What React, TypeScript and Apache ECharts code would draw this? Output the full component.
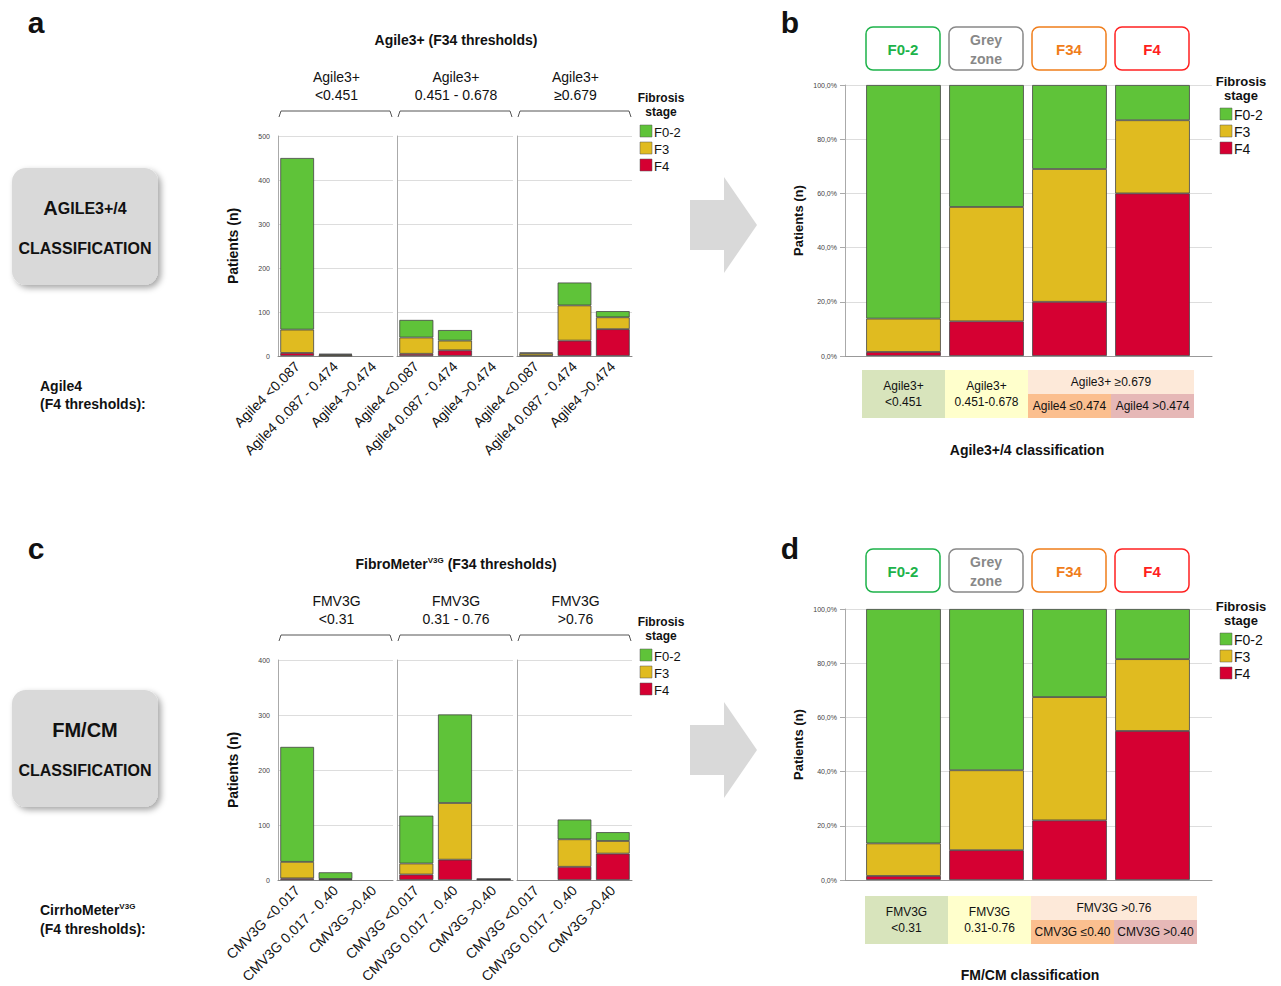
import React, { useEffect, useRef } from "react";
import * as echarts from "echarts";

const STAGES = ["F4", "F3", "F0-2"];
const COLORS = ["#d50032", "#e0bb20", "#5fc339"];
const catsA = ["Agile4 <0.087", "Agile4 0.087 - 0.474", "Agile4 >0.474"];
const catsC = ["CMV3G <0.017", "CMV3G 0.017 - 0.40", "CMV3G >0.40"];
// [F4, F3, F0-2] per category per sub-panel
const panelA = [
  [[7, 53, 390], [1, 2, 2], [0, 0, 0]],
  [[5, 37, 40], [13, 22, 24], [0, 0, 0]],
  [[1, 5, 2], [35, 80, 52], [61, 27, 14]],
];
const panelC = [
  [[3, 30, 209], [1, 1, 12], [0, 0, 0]],
  [[10, 20, 87], [37, 103, 161], [1, 0.5, 0.5]],
  [[0, 0, 0], [24, 50, 36], [48, 23, 16]],
];
const catsB = ["F0-2", "Grey zone", "F34", "F4"];
const panelB = [[1.5, 12.3, 86.2], [12.8, 42.2, 45], [20, 49, 31], [60, 27, 13]];
const panelD = [[1.5, 12, 86.5], [11, 29.5, 59.5], [22, 45.5, 32.5], [55, 26.5, 18.5]];

export default function App() {
  const ref = useRef<HTMLDivElement>(null);
  useEffect(() => {
    document.body.style.margin = "0";
    const chart = echarts.init(ref.current!, undefined, { renderer: "svg" });
    const grids: any[] = [];
    const xAxes: any[] = [];
    const yAxes: any[] = [];
    const series: any[] = [];
    const nz = (v: number) => (v === 0 ? null : v);
    const subX = [[278, 115], [397, 116], [517, 115]];
    const addCount = (top: number, max: number, interval: number, cats: string[], data: number[][][]) => {
      subX.forEach(([l, w], si) => {
        const gi = grids.length;
        grids.push({ left: l, top, width: w, height: 220 });
        xAxes.push({
          type: "category", gridIndex: gi, data: cats,
          axisLine: { lineStyle: { color: "#888" } }, axisTick: { show: false },
          axisLabel: { rotate: 45, fontSize: 14, color: "#111", fontFamily: "Liberation Sans", interval: 0, margin: 8 },
        });
        yAxes.push({
          type: "value", gridIndex: gi, min: 0, max, interval,
          name: si === 0 ? "Patients (n)" : "", nameLocation: "middle", nameGap: 38,
          nameTextStyle: { fontSize: 14, fontWeight: "bold", color: "#111", fontFamily: "Liberation Sans" },
          axisLine: { show: true, lineStyle: { color: "#aaa" } },
          axisLabel: { show: si === 0, fontSize: 7, color: "#444" },
          splitLine: { lineStyle: { color: "#ddd" } },
        });
        STAGES.forEach((s, k) => {
          series.push({
            type: "bar", name: s, stack: "s" + gi, xAxisIndex: gi, yAxisIndex: gi,
            barCategoryGap: "12%", data: data[si].map((d) => nz(d[k])),
            itemStyle: { color: COLORS[k], borderColor: "#444", borderWidth: 0.8 },
          });
        });
      });
    };
    addCount(136, 500, 100, catsA, panelA);
    addCount(660, 400, 100, catsC, panelC);
    const addPct = (top: number, data: number[][]) => {
      // background grid: axes, split lines, labels
      let gi = grids.length;
      grids.push({ left: 845, top, width: 367, height: 271 });
      xAxes.push({ type: "value", gridIndex: gi, min: 0, max: 1, axisLabel: { show: false }, axisTick: { show: false }, splitLine: { show: false }, axisLine: { show: true, lineStyle: { color: "#999" } } });
      yAxes.push({
        type: "value", gridIndex: gi, min: 0, max: 100, interval: 20,
        name: "Patients (n)", nameLocation: "middle", nameGap: 40,
        nameTextStyle: { fontSize: 13, fontWeight: "bold", color: "#111", fontFamily: "Liberation Sans" },
        axisLine: { show: true, lineStyle: { color: "#aaa" } },
        axisLabel: { fontSize: 7, color: "#444", formatter: (v: number) => v.toFixed(1).replace(".", ",") + "%" },
        splitLine: { lineStyle: { color: "#ddd" } },
      });
      // data grid
      gi = grids.length;
      grids.push({ left: 862, top, width: 332, height: 271 });
      xAxes.push({ type: "category", gridIndex: gi, data: catsB, axisLabel: { show: false }, axisTick: { show: false }, axisLine: { show: false } });
      yAxes.push({ type: "value", gridIndex: gi, min: 0, max: 100, interval: 20, axisLabel: { show: false }, axisLine: { show: false }, splitLine: { show: false } });
      STAGES.forEach((s, k) => {
        series.push({
          type: "bar", name: s, stack: "s" + gi, xAxisIndex: gi, yAxisIndex: gi,
          barCategoryGap: "10%", data: data.map((d) => d[k]),
          itemStyle: { color: COLORS[k], borderColor: "#444", borderWidth: 0.8 },
        });
      });
    };
    addPct(85, panelB);
    addPct(609, panelD);

    const g: any[] = [];
    const F = "Liberation Sans";
    const txt = (x: number, y: number, text: string, o: any = {}) =>
      g.push({ type: "text", x, y, style: { text, fontFamily: F, fontSize: 14, fill: "#111", align: "center", verticalAlign: "middle", ...o } });
    txt(36, 22, "a", { fontSize: 30, fontWeight: "bold" });
    txt(790, 22, "b", { fontSize: 30, fontWeight: "bold" });
    txt(36, 548, "c", { fontSize: 30, fontWeight: "bold" });
    txt(790, 548, "d", { fontSize: 30, fontWeight: "bold" });
    txt(456, 40, "Agile3+ (F34 thresholds)", { fontWeight: "bold" });
    g.push({ type: "text", x: 456, y: 564, style: { text: "{b|FibroMeter}{s|V3G}{b| (F34 thresholds)}", align: "center", verticalAlign: "middle",
      rich: { b: { fontFamily: F, fontSize: 14, fontWeight: "bold", fill: "#111" }, s: { fontFamily: F, fontSize: 8, fontWeight: "bold", fill: "#111", verticalAlign: "top", padding: [0, 0, 8, 0] } } } });
    const subA = [["Agile3+", "<0.451"], ["Agile3+", "0.451 - 0.678"], ["Agile3+", "≥0.679"]];
    const subC = [["FMV3G", "<0.31"], ["FMV3G", "0.31 - 0.76"], ["FMV3G", ">0.76"]];
    const brackets = (y0: number, labels: string[][]) => {
      subX.forEach(([l, w], i) => {
        txt(l + w / 2 + 1, y0, labels[i][0]);
        txt(l + w / 2 + 1, y0 + 18, labels[i][1]);
        g.push({ type: "polyline", shape: { points: [[l + 1, y0 + 40], [l + 3, y0 + 34], [l + w - 3, y0 + 34], [l + w - 1, y0 + 40]] }, style: { stroke: "#555", lineWidth: 1, fill: "none" } });
      });
    };
    brackets(77, subA);
    brackets(601, subC);
    const legend = (x: number, y: number, fs: number) => {
      txt(x + 21, y, "Fibrosis", { fontSize: fs, fontWeight: "bold" });
      txt(x + 21, y + 14, "stage", { fontSize: fs, fontWeight: "bold" });
      [2, 1, 0].forEach((k, i) => {
        const yy = y + 27 + i * 17;
        g.push({ type: "rect", shape: { x, y: yy, width: 12, height: 12 }, style: { fill: COLORS[k], stroke: "#555", lineWidth: 0.5 } });
        txt(x + 14, yy + 7, STAGES[k], { align: "left", fontSize: fs + 1 });
      });
    };
    legend(640, 98, 12);
    legend(640, 622, 12);
    legend(1220, 81, 13);
    legend(1220, 606, 13);
    const leftBox = (y: number, rich: string) => {
      g.push({ type: "rect", shape: { x: 12, y, width: 146, height: 117, r: 14 }, style: { fill: "#d9d9d9", shadowBlur: 6, shadowColor: "rgba(0,0,0,0.35)", shadowOffsetX: 3, shadowOffsetY: 3 } });
      g.push({ type: "text", x: 85, y: y + 40, style: { text: rich, align: "center", verticalAlign: "middle",
        rich: { big: { fontFamily: F, fontSize: 20, fontWeight: "bold", fill: "#111" }, sm: { fontFamily: F, fontSize: 16, fontWeight: "bold", fill: "#111" } } } });
      txt(85, y + 80, "CLASSIFICATION", { fontSize: 16, fontWeight: "bold" });
    };
    leftBox(168, "{big|A}{sm|GILE3+/4}");
    leftBox(690, "{big|FM/CM}");
    txt(40, 386, "Agile4", { align: "left", fontWeight: "bold" });
    txt(40, 404, "(F4 thresholds):", { align: "left", fontWeight: "bold" });
    g.push({ type: "text", x: 40, y: 910, style: { text: "{b|CirrhoMeter}{s|V3G}", align: "left", verticalAlign: "middle",
      rich: { b: { fontFamily: F, fontSize: 14, fontWeight: "bold", fill: "#111" }, s: { fontFamily: F, fontSize: 8, fontWeight: "bold", fill: "#111", verticalAlign: "top", padding: [0, 0, 8, 0] } } } });
    txt(40, 929, "(F4 thresholds):", { align: "left", fontWeight: "bold" });
    const arrow = (cy: number) => g.push({ type: "polygon", shape: { points: [[690, cy - 25], [724, cy - 25], [724, cy - 48], [757, cy], [724, cy + 48], [724, cy + 25], [690, cy + 25]] }, style: { fill: "#d9d9d9" } });
    arrow(225);
    arrow(750);
    const heads = [["F0-2", "#1db34a"], ["Grey\nzone", "#888"], ["F34", "#f07d1a"], ["F4", "#ff2020"]];
    const headBoxes = (y: number) => heads.forEach(([t, c], i) => {
      const x = 866 + i * 83;
      g.push({ type: "rect", shape: { x, y, width: 74, height: 43, r: 7 }, style: { fill: "#fff", stroke: c, lineWidth: 1.5 } });
      txt(x + 37, y + 22, t, { fill: c, fontWeight: "bold", fontSize: t.includes("\n") ? 14 : 15, lineHeight: 19 });
    });
    headBoxes(27);
    headBoxes(549);
    const table = (y: number, c1: string[], c2: string[], top: string, b1: string, b2: string, x0: number) => {
      const w = 83;
      const cell = (x: number, yy: number, ww: number, hh: number, fill: string) => g.push({ type: "rect", shape: { x, y: yy, width: ww, height: hh }, style: { fill } });
      cell(x0, y, w, 48, "#d8e4bc");
      cell(x0 + w, y, w, 48, "#ffffcc");
      cell(x0 + 2 * w, y, 2 * w, 24, "#fde9d9");
      cell(x0 + 2 * w, y + 24, w, 24, "#fbbf8f");
      cell(x0 + 3 * w, y + 24, w, 24, "#e6b8b7");
      txt(x0 + w / 2, y + 16, c1[0], { fontSize: 12 });
      txt(x0 + w / 2, y + 32, c1[1], { fontSize: 12 });
      txt(x0 + 1.5 * w, y + 16, c2[0], { fontSize: 12 });
      txt(x0 + 1.5 * w, y + 32, c2[1], { fontSize: 12 });
      txt(x0 + 3 * w, y + 12, top, { fontSize: 12 });
      txt(x0 + 2.5 * w, y + 36, b1, { fontSize: 12 });
      txt(x0 + 3.5 * w, y + 36, b2, { fontSize: 12 });
    };
    table(370, ["Agile3+", "<0.451"], ["Agile3+", "0.451-0.678"], "Agile3+ ≥0.679", "Agile4 ≤0.474", "Agile4 >0.474", 862);
    table(896, ["FMV3G", "<0.31"], ["FMV3G", "0.31-0.76"], "FMV3G >0.76", "CMV3G ≤0.40", "CMV3G >0.40", 865);
    txt(1027, 450, "Agile3+/4 classification", { fontWeight: "bold" });
    txt(1030, 975, "FM/CM classification", { fontWeight: "bold" });

    chart.setOption({ animation: false, grid: grids, xAxis: xAxes, yAxis: yAxes, series, graphic: g });
    return () => chart.dispose();
  }, []);
  return <div ref={ref} style={{ position: "absolute", left: 0, top: 0, width: 1281, height: 986, background: "#fff" }} />;
}
